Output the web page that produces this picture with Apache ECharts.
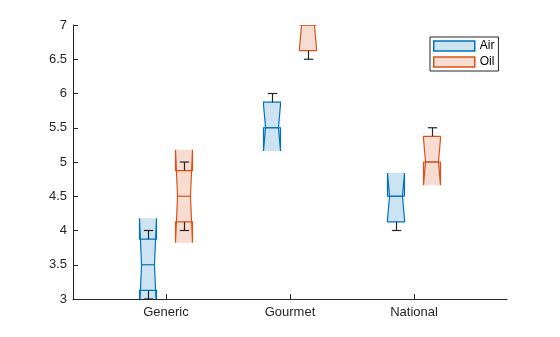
<!DOCTYPE html>
<html>
<head>
<meta charset="utf-8">
<script src="https://cdn.jsdelivr.net/npm/echarts@6/dist/echarts.min.js"></script>
<style>html,body{margin:0;padding:0;background:#fff}#c{width:560px;height:337px}</style>
</head>
<body>
<div id="c"></div>
<script>
// Categories and tick labels
const categories = ['Generic', 'Gourmet', 'National'];
const yTicks = [3, 3.5, 4, 4.5, 5, 5.5, 6, 6.5, 7];
const nObs = 3;

// Air: box statistics per category
const airMin = [3, 5.5, 4];
const airQ1  = [3.125, 5.5, 4.125];
const airMed = [3.5, 5.5, 4.5];
const airQ3  = [3.875, 5.875, 4.5];
const airMax = [4, 6, 4.5];

// Oil: box statistics per category
const oilMin = [4, 6.5, 5];
const oilQ1  = [4.125, 6.625, 5];
const oilMed = [4.5, 7, 5];
const oilQ3  = [4.875, 7, 5.375];
const oilMax = [5, 7, 5.5];

function rows(mn, q1, md, q3, mx) {
  return categories.map((c, i) => [i + 1, mn[i], q1[i], md[i], q3[i], mx[i]]);
}

const BOX_W = 0.15, OFFSET = 0.144;
const WHISK = '#262626';

function makeRender(offset, fill, edge) {
  return function (params, api) {
    const c = api.value(0) + offset;
    const mn = api.value(1), q1 = api.value(2), md = api.value(3), q3 = api.value(4), mx = api.value(5);
    const half = 1.57 * (q3 - q1) / Math.sqrt(nObs);
    const nLo = md - half, nHi = md + half;
    const xc = api.coord([c, md])[0];
    const bw = api.size([BOX_W, 0])[0];
    const L = Math.round(xc - bw / 2) + 0.5, R = Math.round(xc + bw / 2) - 0.5;
    const w = bw * 0.11;
    const Y = v => api.coord([c, v])[1];
    const inset = y => {
      if (y <= md) { if (y <= nLo || md === nLo) return y < nLo ? 0 : w; return w * (y - nLo) / (md - nLo); }
      if (y >= nHi) return 0; return w * (nHi - y) / (nHi - md);
    };
    const ch = [];
    if (nLo < q1) ch.push({ type: 'rect', shape: { x: L, y: Y(q1), width: R - L, height: Y(nLo) - Y(q1) }, style: { fill: fill } });
    if (nHi > q3) ch.push({ type: 'rect', shape: { x: L, y: Y(nHi), width: R - L, height: Y(q3) - Y(nHi) }, style: { fill: fill } });
    const lp = [[L + inset(q1), Y(q1)]];
    if (nLo > q1) lp.push([L, Y(nLo)]);
    lp.push([L + w, Y(md)]);
    if (nHi < q3) lp.push([L, Y(nHi)]);
    lp.push([L + inset(q3), Y(q3)]);
    const rp = lp.map(p => [L + R - p[0], p[1]]).reverse();
    ch.push({ type: 'polygon', shape: { points: lp.concat(rp) }, style: { fill: fill } });
    const out = [[L, Y(q1)], [L, Y(nLo)], [L + w, Y(md)], [L, Y(nHi)], [L, Y(q3)],
                 [R, Y(q3)], [R, Y(nHi)], [R - w, Y(md)], [R, Y(nLo)], [R, Y(q1)]];
    ch.push({ type: 'polygon', shape: { points: out }, style: { fill: 'none', stroke: edge, lineWidth: 1.2 } });
    ch.push({ type: 'line', shape: { x1: L + w, y1: Y(md), x2: R - w, y2: Y(md) }, style: { stroke: edge, lineWidth: 1.2 } });
    const xm = Math.round(xc) + 0.5, cap = bw * 0.25;
    if (mx > q3) {
      ch.push({ type: 'line', shape: { x1: xm, y1: Y(q3), x2: xm, y2: Y(mx) }, style: { stroke: WHISK, lineWidth: 1.2 } });
      ch.push({ type: 'line', shape: { x1: xm - cap, y1: Y(mx), x2: xm + cap, y2: Y(mx) }, style: { stroke: WHISK, lineWidth: 1.2 } });
    }
    if (mn < q1) {
      ch.push({ type: 'line', shape: { x1: xm, y1: Y(q1), x2: xm, y2: Y(mn) }, style: { stroke: WHISK, lineWidth: 1.2 } });
      ch.push({ type: 'line', shape: { x1: xm - cap, y1: Y(mn), x2: xm + cap, y2: Y(mn) }, style: { stroke: WHISK, lineWidth: 1.2 } });
    }
    return { type: 'group', children: ch };
  };
}

const FONT = 'Liberation Sans, Arial, Helvetica, sans-serif';
const chart = echarts.init(document.getElementById('c'), null, { renderer: 'canvas' });
chart.setOption({
  animation: false,
  backgroundColor: '#fff',
  grid: { left: 73, right: 53, top: 25, bottom: 38 },
  legend: {
    orient: 'vertical', left: 430, top: 37,
    padding: [3, 4, 3, 3], itemGap: 4, itemWidth: 41, itemHeight: 10,
    borderColor: '#262626', borderWidth: 1, backgroundColor: '#fff',
    icon: 'rect',
    textStyle: { fontFamily: FONT, fontSize: 12, color: '#000', lineHeight: 10 },
    data: [
      { name: 'Air', itemStyle: { color: '#CCE3F2', borderColor: '#0072BD', borderWidth: 1.5 } },
      { name: 'Oil', itemStyle: { color: '#F7DDD1', borderColor: '#D95319', borderWidth: 1.5 } }
    ]
  },
  xAxis: {
    type: 'value', min: 0.25, max: 3.75,
    splitLine: { show: false },
    axisLine: { show: true, onZero: false, lineStyle: { color: '#262626', width: 1 } },
    axisTick: { show: true, inside: true, length: 5, customValues: [1, 2, 3], lineStyle: { color: '#262626' } },
    axisLabel: { customValues: [1, 2, 3], formatter: v => categories[Math.round(v) - 1], fontFamily: FONT, fontSize: 13, color: '#262626', margin: 7 }
  },
  yAxis: {
    type: 'value', min: 3, max: 7, interval: 0.5,
    splitLine: { show: false },
    axisLine: { show: true, lineStyle: { color: '#262626', width: 1 } },
    axisTick: { show: true, inside: true, length: 5, lineStyle: { color: '#262626' } },
    axisLabel: { formatter: v => String(v), fontFamily: FONT, fontSize: 13, color: '#262626', margin: 6 }
  },
  series: [
    { name: 'Air', type: 'custom', clip: true, itemStyle: { color: '#CCE3F2', borderColor: '#0072BD' },
      renderItem: makeRender(-OFFSET, '#CCE3F2', '#0072BD'), data: rows(airMin, airQ1, airMed, airQ3, airMax),
      encode: { x: 0, y: [1, 2, 3, 4, 5] } },
    { name: 'Oil', type: 'custom', clip: true, itemStyle: { color: '#F7DDD1', borderColor: '#D95319' },
      renderItem: makeRender(OFFSET, '#F7DDD1', '#D95319'), data: rows(oilMin, oilQ1, oilMed, oilQ3, oilMax),
      encode: { x: 0, y: [1, 2, 3, 4, 5] } }
  ]
});
</script>
</body>
</html>
